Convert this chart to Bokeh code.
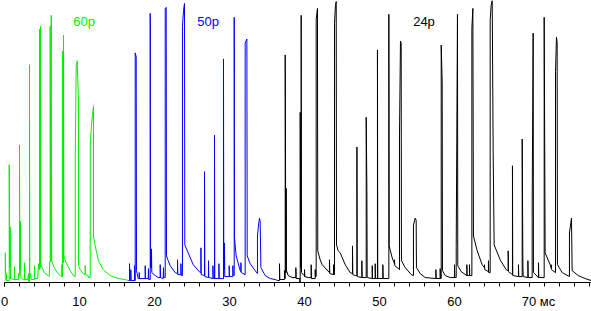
from bokeh.plotting import figure
from bokeh.models import Range1d, SingleIntervalTicker, Label
from bokeh.embed import file_html
from bokeh.resources import INLINE

# Trace samples: time (ms) and amplitude (arbitrary units)
green_t = [0.00, 0.09, 0.09, 0.13, 0.27, 0.27, 0.63, 0.63, 0.69, 0.76, 0.76, 0.80,
           1.27, 1.33, 1.33, 1.37, 1.87, 1.87, 1.93, 2.00, 2.00, 2.04, 2.13, 2.13, 2.17,
           2.49, 2.67, 2.67, 2.71, 3.11, 3.20, 3.24, 3.33, 3.33, 3.37, 3.47, 3.56,
           4.00, 4.00, 4.04, 4.43, 4.53, 4.57, 4.67, 4.67, 4.73, 4.80, 4.80, 4.84, 5.03, 5.29, 5.83, 5.96,
           6.03, 6.09, 6.09, 6.16, 6.23, 6.23, 6.29, 6.63, 7.03, 7.43, 7.63,
           7.65, 7.69, 7.73, 7.73, 7.80, 7.87, 7.87, 7.91, 8.23, 8.76, 9.29,
           9.43, 9.43, 9.56, 9.69, 9.87, 9.87, 10.09, 10.49, 10.76,
           10.76, 10.80, 11.16, 11.20, 11.43,
           11.43, 11.60, 11.73, 11.87, 11.87, 12.09, 12.53, 13.16, 14.09, 15.16, 16.09, 16.53]
green_a = [0, 0, 28, 7, 7, 0, 0, 117, 13, 13, 54, 2,
           1, 1, 14, 1, 1, 7, 5, 5, 137, 11, 11, 60, 3,
           1, 1, 18, 1, 1, 7, -2, -2, 218, 3, 7, 1,
           1, 15, 2, 2, 17, 11, 11, 254, 13, 13, 257, 16, 13, 8, 5, 4,
           19, 19, 257, 19, 19, 268, 20, 13, 8, 5, 4,
           16, 4, 4, 232, 18, 18, 248, 25, 18, 10, 4,
           4, 122, 218, 222, 180, 15, 11, 7, 6,
           15, 6, 5, 3, 3,
           138, 157, 167, 176, 45, 35, 20, 11, 5, 2, 1, 0]

blue_t = [16.53, 16.67, 16.67, 16.71, 16.84, 16.84, 16.89, 17.33, 17.33, 17.37,
          17.43, 17.43, 17.56, 17.60, 17.69, 17.83, 17.96, 17.96, 18.00, 18.76, 18.76, 18.80,
          19.16, 19.20, 19.24, 19.43, 19.43, 19.47, 19.60, 19.60, 19.64, 20.09, 20.49,
          20.76, 20.76, 20.80, 21.16, 21.20, 21.24, 21.43, 21.43, 21.56, 21.60, 21.83, 22.09, 22.76,
          23.07, 23.07, 23.11, 23.52, 23.52, 23.56, 23.73, 23.73, 23.87, 24.00, 24.04, 24.49, 25.16, 26.09,
          26.19, 26.19, 26.23, 26.67, 26.67, 26.71, 27.20, 27.20, 27.24, 27.79, 27.79, 27.83,
          28.00, 28.00, 28.04, 28.59, 28.59, 28.63, 29.20, 29.20, 29.24, 29.33, 29.33, 29.37,
          29.96, 29.96, 30.00, 30.45, 30.45, 30.49, 30.63, 30.63, 30.67, 30.89, 31.43,
          31.52, 31.52, 31.56, 32.09, 32.09, 32.32, 32.36, 32.76, 33.43,
          33.73, 33.73, 33.87, 34.00, 34.09, 34.19, 34.76, 35.43, 36.09, 36.45]
blue_a = [0, 0, 17, 0, 0, 11, 0, 0, 15, 0,
          0, 230, 226, 10, 7, 2, 2, 8, 2, 2, 15, 2,
          2, 12, 1, 1, 270, 13, 13, 32, 8, 5, 3,
          3, 16, 3, 2, 13, 3, 3, 275, 276, 25, 20, 15, 8,
          7, 21, 6, 6, 17, 5, 5, 257, 273, 280, 36, 28, 16, 8,
          8, 33, 6, 5, 110, 4, 3, 20, 3, 2, 15, 2,
          2, 147, 2, 2, 17, 2, 2, 224, 11, 11, 38, 4,
          4, 15, 4, 4, 15, 5, 5, 266, 43, 25, 10,
          9, 18, 8, 6, 240, 244, 25, 17, 10,
          7, 45, 56, 63, 60, 13, 5, 2, 1, 0]

black_t = [36.45, 36.67, 36.67, 36.71, 37.33, 37.33, 37.37, 37.43, 37.43, 37.51, 37.56, 37.56, 37.60,
           37.83, 38.36, 38.85, 38.85, 38.89, 39.36, 39.36, 39.43, 39.43, 39.47, 39.56, 39.56, 39.60,
           39.96, 40.00, 40.00, 40.04, 40.49, 40.89, 40.89, 40.93, 41.43, 41.43, 41.47,
           41.56, 41.56, 41.73, 41.77, 42.09, 42.36, 43.33, 43.33, 43.37, 43.87, 43.87, 43.91,
           44.00, 44.00, 44.13, 44.23, 44.27, 44.49, 44.76, 45.43, 46.09,
           46.40, 46.40, 46.44, 46.76, 46.99, 46.99, 47.03, 47.65, 47.65, 47.69,
           48.23, 48.23, 48.32, 48.36, 49.03, 49.03, 49.07, 49.43, 49.43, 49.47,
           49.73, 49.73, 49.77, 50.45, 50.45, 50.49, 51.25, 51.25, 51.29, 51.69,
           52.00, 52.00, 52.04, 52.67, 52.67, 52.80, 52.89, 52.93, 53.43, 54.23,
           54.53, 54.53, 54.76, 54.89, 54.93, 55.43, 56.09, 57.52, 57.52, 57.56,
           58.09, 58.09, 58.13, 58.23, 58.23, 58.36, 58.40, 58.76, 59.43,
           60.00, 60.00, 60.04, 60.23, 60.23, 60.40, 60.44, 60.89, 61.65, 61.65, 61.69,
           62.00, 62.00, 62.04, 62.32, 62.32, 62.45, 62.53, 63.03, 63.69,
           64.00, 64.00, 64.04, 64.53, 64.53, 64.57, 64.76, 64.76, 64.89, 65.03, 65.16, 65.29,
           66.09, 66.89, 67.16, 67.16, 67.20, 67.73, 67.73, 67.77, 68.53, 68.53, 68.57,
           69.03, 69.03, 69.12, 69.16, 69.79, 69.79, 69.83, 70.36, 70.36, 70.49, 70.53,
           71.20, 71.20, 71.24, 71.96, 71.96, 72.09, 72.76, 72.89, 72.89, 72.93,
           73.47, 73.47, 73.60, 73.69, 73.73, 74.36, 75.33, 75.33, 75.47, 75.60, 75.69,
           76.49, 77.43, 78.23]
black_a = [0, 0, 17, 1, 1, 10, 2, 2, 228, 8, 8, 93, 10,
           5, 3, 3, 13, 2, 2, -2, -2, 170, 13, 13, 268, 8,
           5, 4, 11, 4, 3, 3, 16, 2, 2, 11, 4,
           4, 264, 275, 30, 21, 16, 8, 21, 7, 6, 16, 6,
           6, 260, 278, 282, 36, 30, 28, 16, 8,
           7, 35, 6, 5, 5, 135, 4, 3, 20, 3,
           3, 165, 91, 3, 2, 15, 2, 2, 17, 2,
           2, 233, 2, 2, 16, 2, 2, 269, 35, 23,
           17, 21, 15, 11, 148, 242, 240, 20, 13, 6,
           5, 56, 63, 61, 13, 7, 3, 2, 11, 2,
           2, 12, 2, 2, 238, 200, 10, 5, 3,
           3, 16, 3, 3, 33, 269, 15, 9, 5, 16, 5,
           5, 16, 5, 5, 255, 275, 45, 30, 16,
           13, 16, 11, 9, 20, 8, 8, 263, 278, 283, 128, 36,
           21, 11, 10, 30, 9, 6, 116, 5, 4, 16, 4,
           4, 143, 16, 4, 3, 20, 3, 3, 76, 250, 8,
           3, 18, 3, 3, 266, 28, 16, 13, 16, 11,
           8, 211, 246, 240, 16, 8, 4, 48, 56, 63, 10,
           5, 2, 0]

series_names = ["60р", "50р", "24р"]
series_label_t = [9.16, 25.69, 54.49]
label_y = 262
tick_unit = "мс"
unit_tick = 70

p = figure(width=591, height=311, output_backend="svg", toolbar_location=None,
           x_range=Range1d(0, 78.27), y_range=Range1d(-2, 283),
           y_axis_type=None, min_border_left=4, min_border_right=0,
           min_border_top=0, min_border_bottom=26,
           outline_line_color=None, background_fill_color="white",
           border_fill_color="white")
p.grid.visible = False

colors = ["#00f000", "#0000ff", "#000000"]
for ts, ys, c in [(green_t, green_a, colors[0]), (blue_t, blue_a, colors[1]),
                  (black_t, black_a, colors[2])]:
    p.line(ts, ys, line_color=c, line_width=1)

nb = "\u00a0"
ax = p.xaxis[0]
ax.ticker = SingleIntervalTicker(interval=10, num_minor_ticks=5)
ax.axis_line_color = "black"
ax.major_tick_in = 0
ax.major_tick_out = 4
ax.minor_tick_in = 0
ax.minor_tick_out = 4
ax.major_tick_line_color = "black"
ax.minor_tick_line_color = "black"
ax.major_label_text_font = "Liberation Sans"
ax.major_label_text_font_size = "13px"
ax.major_label_text_color = "black"
ax.major_label_standoff = 7
ax.major_label_overrides = {unit_tick: nb * 5 + str(unit_tick) + nb + tick_unit}

for name, t, c in zip(series_names, series_label_t, colors):
    p.add_layout(Label(x=t, y=label_y, text=name, text_color=c,
                       text_font="Liberation Sans", text_font_size="13px",
                       text_baseline="alphabetic", text_align="left"))

open("out.html", "w").write(file_html(p, INLINE))
